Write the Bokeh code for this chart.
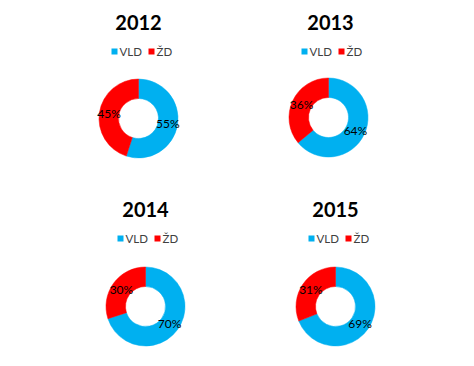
import math
from bokeh.plotting import figure
from bokeh.models import Range1d, ColumnDataSource
from bokeh.core.properties import value
from bokeh.embed import file_html
from bokeh.resources import INLINE

# ---- data ----
years = ["2012", "2013", "2014", "2015"]
categories = ["VLD", "ŽD"]
vld = [55, 64, 70, 69]
zd = [45, 36, 30, 31]
colors = ["#00B0F0", "#FF0000"]

# ---- layout (image pixel coordinates) ----
W, H = 474, 366
cx = [138, 328, 145, 335]
cy = [118, 117, 306, 306]
title_x = [138, 330, 145, 335]
title_y = [22, 22, 209, 209]
leg_x = [111, 301, 117, 308]
leg_y = [51, 51, 238, 238]
r_out, r_in = 39.5, 20

PW, PH = W - 16, H - 16
p = figure(width=PW, height=PH, output_backend="svg", toolbar_location=None,
           x_range=Range1d(0, PW), y_range=Range1d(H - PH, H), min_border=0)
p.axis.visible = False
p.grid.visible = False
p.outline_line_color = None
p.background_fill_color = "white"
p.border_fill_color = "white"

FONT = "Lato"

def Y(y):
    return H - y

for i, yr in enumerate(years):
    vals = [vld[i], zd[i]]
    total = sum(vals)
    starts, ends, lx, ly, labs = [], [], [], [], []
    acc = 0.0
    for v in vals:
        a0 = math.pi / 2 - 2 * math.pi * acc / total
        acc += v
        a1 = math.pi / 2 - 2 * math.pi * acc / total
        starts.append(a0)
        ends.append(a1)
        mid = (a0 + a1) / 2
        rm = (r_out + r_in) / 2
        lx.append(cx[i] + rm * math.cos(mid))
        ly.append(Y(cy[i]) + rm * math.sin(mid))
        labs.append(f"{round(100 * v / total)}%")
    src = ColumnDataSource(dict(x=[cx[i]] * 2, y=[Y(cy[i])] * 2, s=starts, e=ends,
                                c=colors, lx=lx, ly=ly, t=labs))
    p.annular_wedge(x="x", y="y", inner_radius=r_in, outer_radius=r_out,
                    start_angle="s", end_angle="e", direction="clock",
                    fill_color="c", line_color="c", line_width=0.5, source=src)
    p.text(x="lx", y="ly", text="t", source=src, text_align="center",
           text_baseline="middle", text_font=value(FONT), text_font_size="12px",
           text_color="#000000")
    # title
    p.text(x=[title_x[i]], y=[Y(title_y[i])], text=[yr], text_align="center",
           text_baseline="middle", text_font=value(FONT), text_font_style="bold",
           text_font_size="20px", text_color="#000000")
    # legend
    offs = [0, 37]
    for k, cat in enumerate(categories):
        x0 = leg_x[i] + offs[k]
        p.rect(x=[x0 + 3], y=[Y(leg_y[i])], width=6, height=6,
               fill_color=colors[k], line_color=None)
        p.text(x=[x0 + 8], y=[Y(leg_y[i])], text=[cat], text_align="left",
               text_baseline="middle", text_font=value(FONT), text_font_size="11.5px",
               text_color="#404040")

open("out.html", "w").write(file_html(p, INLINE))
